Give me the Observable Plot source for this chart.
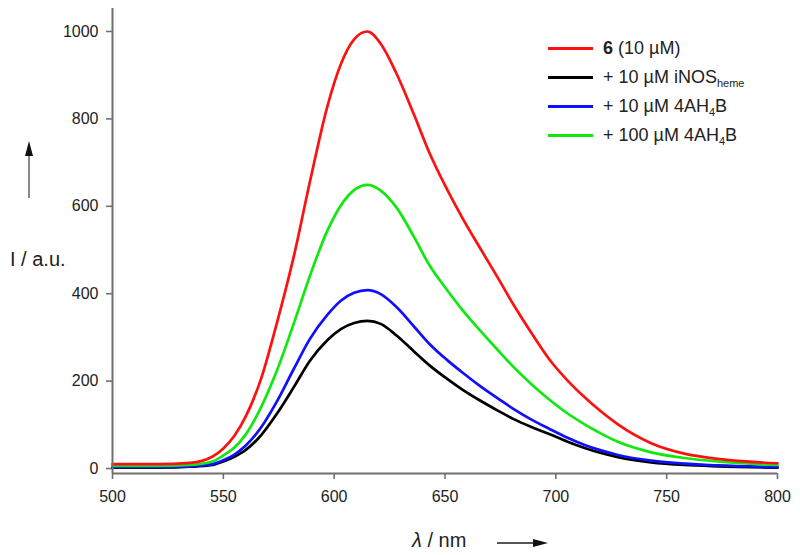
<!DOCTYPE html>
<html>
<head>
<meta charset="utf-8">
<script src="https://cdn.jsdelivr.net/npm/d3@7"></script>
<script src="https://cdn.jsdelivr.net/npm/@observablehq/plot@0.6"></script>
<style>
  html, body { margin: 0; padding: 0; background: #fff; }
  #wrap { position: relative; width: 800px; height: 555px; overflow: hidden; font-family: "Liberation Sans", Arial, sans-serif; color: #222; }
  #wrap svg.plot { position: absolute; left: 0; top: 0; }
  .leg { position: absolute; left: 548px; height: 22px; display: flex; align-items: center; font-size: 18px; white-space: nowrap; }
  .leg .sw { width: 45px; height: 3px; margin-right: 10px; }
  .leg sub { font-size: 11px; vertical-align: -4px; line-height: 0; }
  .lbl { position: absolute; font-size: 20px; white-space: nowrap; color: #222; }
</style>
</head>
<body>
<div id="wrap"></div>
<script>
// wavelength grid (nm)
const wavelengths = [500, 520, 535, 545, 550, 555, 560, 567, 574, 582, 589, 597, 603, 609, 615, 621, 628, 636, 643, 651, 658, 666, 674, 681, 689, 697, 705, 713, 720, 728, 743, 758, 773, 800];
// intensities (a.u.)
const red   = [10, 10, 13, 27, 46, 75, 118, 205, 330, 490, 655, 830, 925, 982, 1000, 972, 905, 810, 722, 638, 572, 503, 435, 374, 310, 250, 203, 163, 132, 101, 58, 34, 22, 12];
const black = [2, 2, 4, 8, 16, 27, 42, 76, 124, 188, 246, 294, 319, 333, 338, 331, 305, 268, 236, 205, 180, 155, 132, 113, 95, 79, 62, 47, 36, 26, 14, 8, 5, 2];
const blue  = [3, 3, 5, 10, 19, 32, 52, 94, 152, 230, 296, 352, 384, 402, 408, 399, 370, 325, 285, 248, 219, 188, 160, 136, 112, 91, 71, 54, 42, 31, 18, 11, 7, 3];
const green = [6, 6, 8, 16, 30, 48, 77, 140, 222, 335, 440, 545, 602, 637, 649, 636, 598, 530, 465, 408, 362, 315, 270, 232, 193, 158, 127, 101, 81, 61, 37, 24, 16, 8];

const seriesNames = ["6 (10 µM)", "+ 10 µM iNOS heme", "+ 10 µM 4AH4B", "+ 100 µM 4AH4B"];
const seriesColors = ["#ff1010", "#000000", "#1010ff", "#10e810"];
const seriesValues = [red, black, blue, green];

const xTicks = [500, 550, 600, 650, 700, 750, 800];
const yTicks = [0, 200, 400, 600, 800, 1000];

const yMin = -11.4, yMax = 1052.6;

const rows = [];
seriesValues.forEach((vals, i) => {
  vals.forEach((v, j) => rows.push({ wl: wavelengths[j], I: v, s: seriesNames[i] }));
});
// draw order: black, blue, green, red
const drawOrder = [1, 2, 3, 0];

const axisColor = "#707070";

const chart = Plot.plot({
  width: 800,
  height: 555,
  marginLeft: 112,
  marginRight: 23,
  marginTop: 8,
  marginBottom: 82,
  style: { background: "#fff", fontFamily: "'Liberation Sans', Arial, sans-serif", fontSize: "16px", color: "#222" },
  x: { domain: [500, 800], ticks: xTicks },
  y: { domain: [yMin, yMax], ticks: yTicks },
  marks: [
    Plot.axisX({ ticks: xTicks, tickSize: 6, tickPadding: 11, label: null, stroke: axisColor, strokeWidth: 1.6, fill: "#222", tickFormat: d => String(d) }),
    Plot.axisY({ ticks: yTicks, tickSize: 6, tickPadding: 8, label: null, stroke: axisColor, strokeWidth: 1.6, fill: "#222", tickFormat: d => String(d) }),
    ...drawOrder.map(i => Plot.line(rows.filter(r => r.s === seriesNames[i]), {
      x: "wl", y: "I", stroke: seriesColors[i], strokeWidth: 2.7, curve: "monotone-x"
    })),
    Plot.ruleY([yMin], { x1: 500, x2: 800, stroke: axisColor, strokeWidth: 2 }),
    Plot.ruleX([500], { y1: yMin, y2: yMax, stroke: axisColor, strokeWidth: 2 })
  ]
});
chart.classList.add("plot");
const wrap = document.getElementById("wrap");
wrap.appendChild(chart);

// legend
const legendHTML = [
  '<b>6</b> (10 µM)',
  '+ 10 µM iNOS<sub>heme</sub>',
  '+ 10 µM 4AH<sub>4</sub>B',
  '+ 100 µM 4AH<sub>4</sub>B'
];
const legendTops = [37, 66, 95, 124];
legendHTML.forEach((h, i) => {
  const d = document.createElement("div");
  d.className = "leg";
  d.style.top = legendTops[i] + "px";
  d.innerHTML = `<span class="sw" style="background:${seriesColors[i]}"></span><span>${h}</span>`;
  wrap.appendChild(d);
});

// axis labels
const yl = document.createElement("div");
yl.className = "lbl";
yl.style.left = "10px";
yl.style.top = "248px";
yl.textContent = "I / a.u.";
wrap.appendChild(yl);

const xl = document.createElement("div");
xl.className = "lbl";
xl.style.left = "412px";
xl.style.top = "529px";
xl.innerHTML = '<i>λ</i> / nm';
wrap.appendChild(xl);

// arrows
const ns = "http://www.w3.org/2000/svg";
const arr = document.createElementNS(ns, "svg");
arr.setAttribute("width", 800);
arr.setAttribute("height", 555);
arr.style.position = "absolute";
arr.style.left = "0";
arr.style.top = "0";
arr.innerHTML = `
  <line x1="29" y1="198" x2="29" y2="152" stroke="#888" stroke-width="2"/>
  <path d="M29,141 L25,156 L33,156 Z" fill="#111"/>
  <line x1="497" y1="543" x2="535" y2="543" stroke="#555" stroke-width="2"/>
  <path d="M548,543 L533,539 L533,547 Z" fill="#111"/>
`;
wrap.appendChild(arr);
</script>
</body>
</html>
